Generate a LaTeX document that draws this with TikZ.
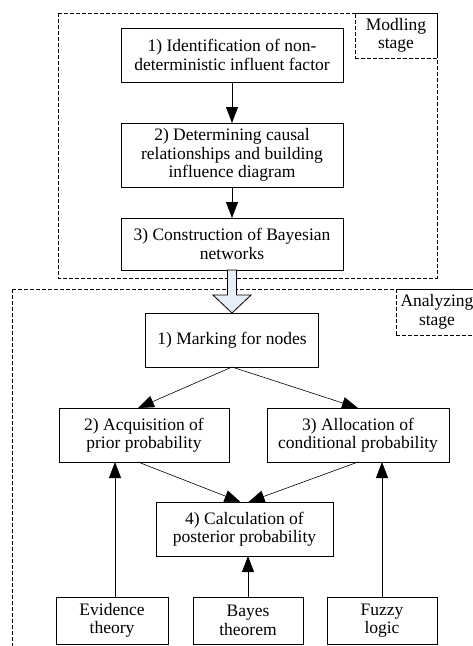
\documentclass[tikz,border=0pt]{standalone}
\usepackage{fontspec}
\setmainfont{Liberation Serif}
\usetikzlibrary{arrows.meta,positioning}

\definecolor{hollowfill}{RGB}{230,238,250}

\begin{document}
\begin{tikzpicture}[
  x=1pt, y=1pt,
  font=\fontsize{17.5}{18.5}\selectfont,
  box/.style={draw, line width=0.9pt, align=center, inner sep=3pt, outer sep=0pt},
  stage/.style={draw, dashed, dash pattern=on 4pt off 2pt, line width=0.7pt},
  stagelabel/.style={stage, align=center, inner ysep=2pt, inner xsep=4.5pt, outer sep=0pt},
  arr/.style={-{Triangle[length=16pt, width=12pt]}, line width=0.8pt},
  hollow/.style={draw, line width=0.8pt, fill=hollowfill, line join=miter}
]

\useasboundingbox (0,0) rectangle (473,-646);
\clip (0,0) rectangle (473,-646);

% Modling stage
\node[box, minimum width=222pt, minimum height=54pt] (ident) at (232,-55)
  {1) Identification of non-\\deterministic influent factor};

\node[box, minimum width=222pt, minimum height=64pt, below=41pt of ident] (causal)
  {2) Determining causal\\relationships and building\\influence diagram};

\node[box, minimum width=222pt, minimum height=52pt, below=31pt of causal] (constr)
  {3) Construction of Bayesian\\networks};

% Analyzing stage
\node[box, minimum width=173pt, minimum height=54pt, below=43pt of constr] (marking)
  {1) Marking for nodes};

\node[box, minimum width=170pt, minimum height=54pt, below=41pt of marking, xshift=-88pt] (prior)
  {2) Acquisition of\\prior probability};

\node[box, minimum width=182pt, minimum height=54pt, below=41pt of marking, xshift=126pt] (cond)
  {3) Allocation of\\conditional probability};

\node[box, minimum width=177pt, minimum height=54pt, below=40pt of prior, xshift=100.5pt] (post)
  {4) Calculation of\\posterior probability};

\node[box, minimum width=110pt, minimum height=47pt, below=41pt of post, xshift=3.5pt] (bayes)
  {Bayes\\theorem};

\node[box, minimum width=112pt, minimum height=47pt, left=25pt of bayes] (evid)
  {Evidence\\theory};

\node[box, minimum width=110pt, minimum height=47pt, right=24pt of bayes] (fuzzy)
  {Fuzzy\\logic};

% stage frames
\draw[stage] (58,-13) rectangle (437,-278);
\node[stagelabel, anchor=north east, text width=73pt, minimum height=45pt] (modlbl) at (437,-13)
  {Modling\\stage};

\draw[stage] (12,-289) rectangle (480,-660);
\node[stagelabel, anchor=north west, text width=73pt, minimum height=46pt] (analbl) at (396,-289)
  {Analyzing\\stage};

\draw[arr] (ident) -- (causal);
\draw[arr] (causal) -- (constr);

\draw[hollow] (marking.north) -- ++(-19pt,18pt) -- ++(14.5pt,0) -- ([xshift=-4.5pt]constr.south)
  -- ([xshift=4.5pt]constr.south) -- ++(0,-25pt) -- ++(14.5pt,0) -- cycle;

\draw[arr, line width=0.6pt] (marking.south) -- ([xshift=-6pt]prior.north);
\draw[arr, line width=0.6pt] (marking.south) -- (cond.north);

\draw[arr, line width=0.6pt] ([xshift=-6pt]prior.south) -- ([xshift=-4pt]post.north);
\draw[arr, line width=0.6pt] (cond.south) -- ([xshift=4pt]post.north);

\draw[arr] ([xshift=3pt]evid.north) -- ([xshift=3pt]evid.north |- prior.south);
\draw[arr] (bayes.north) -- (bayes.north |- post.south);
\draw[arr] (fuzzy.north) -- (fuzzy.north |- cond.south);

\end{tikzpicture}
\end{document}
